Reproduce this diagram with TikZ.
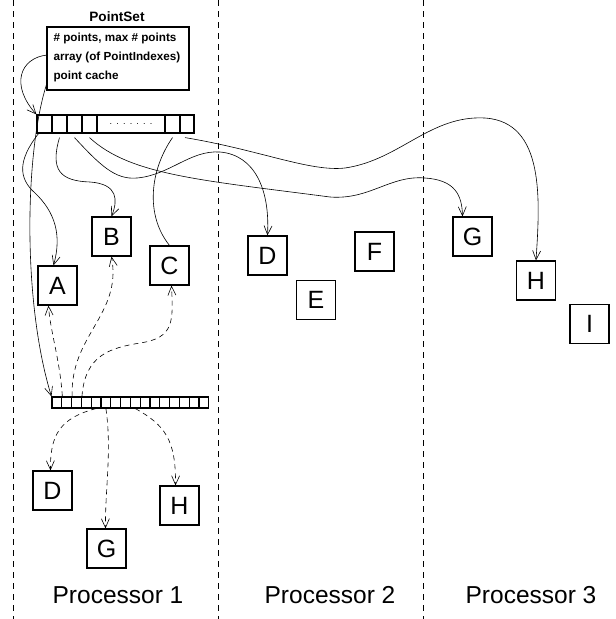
\documentclass[tikz,border=0pt]{standalone}
\usepackage{fontspec}
\setmainfont{Liberation Sans}
\usetikzlibrary{arrows.meta}
\tikzset{
  obj/.style={draw,line width=1.2pt,minimum size=39pt,inner sep=0pt,font=\fontsize{25}{30}\selectfont},
  cellbox/.style={draw,line width=1.2pt,minimum height=18pt,inner sep=0pt},
  tinycell/.style={draw,line width=1.1pt,minimum width=9.8pt,minimum height=11pt,inner sep=0pt},
  ptr/.style={line width=0.6pt,-{Straight Barb[length=9pt,width=8pt]}},
  ghost/.style={ptr,dash pattern=on 5pt off 4pt},
  divider/.style={line width=0.6pt,dash pattern=on 6pt off 5pt},
  proc/.style={font=\fontsize{24.5}{29}\selectfont}
}
\begin{document}
\begin{tikzpicture}[x=1pt,y=-1pt]
    \useasboundingbox (0,0) rectangle (616,619);
    % processor boundaries
    \draw[divider] (13,0)--(13,619);
    \draw[divider] (218,0)--(218,619);
    \draw[divider] (423,0)--(423,619);
    \node[proc] (p1) at (118,595) {Processor 1};
    \node[proc] (p2) at (330,595) {Processor 2};
    \node[proc] (p3) at (531,595) {Processor 3};

    % the PointSet record
    \node[font=\fontsize{13.6}{16}\selectfont\bfseries] (title) at (117,17) {PointSet};
    \draw[line width=1.2pt] (47,27) rectangle (189,90);
    \node[anchor=west,font=\fontsize{11.7}{14}\selectfont\bfseries] (f1) at (50,38) {\# points, max \# points};
    \node[anchor=west,font=\fontsize{11.7}{14}\selectfont\bfseries] (f2) at (50,57) {array (of PointIndexes)};
    \node[anchor=west,font=\fontsize{11.7}{14}\selectfont\bfseries] (f3) at (50,76) {point cache};
    \coordinate (arr) at (47,55);
    \coordinate (cache) at (47,83);

    % array of point indexes
    \node[cellbox,minimum width=15pt] (c1) at (44.5,124) {};
    \node[cellbox,minimum width=15pt] (c2) at (59.5,124) {};
    \node[cellbox,minimum width=15pt] (c3) at (74.5,124) {};
    \node[cellbox,minimum width=15pt] (c4) at (89.5,124) {};
    \node[cellbox,minimum width=68pt] (cdots) at (131,124) {\fontsize{9}{11}\selectfont.\hspace{4.2pt}.\hspace{4.2pt}.\hspace{4.2pt}.\hspace{4.2pt}.\hspace{4.2pt}.\hspace{4.2pt}.};
    \node[cellbox,minimum width=15pt] (c6) at (172.5,124) {};
    \node[cellbox,minimum width=14pt] (c7) at (187,124) {};

    % point cache
    \foreach \i in {1,...,16}
        \node[tinycell] (b\i) at ({47.1+9.8*\i},402.5) {};

    % points
    \node[obj] (A) at (57.5,285.5) {A};
    \node[obj] (B) at (111.5,236.5) {B};
    \node[obj] (C) at (169.5,265.5) {C};
    \node[obj] (D) at (267.5,255.5) {D};
    \node[obj] (E) at (316,300) {E};
    \node[obj] (F) at (374.5,251.5) {F};
    \node[obj] (G) at (472.5,236.5) {G};
    \node[obj] (H) at (536,280.5) {H};
    \node[obj] (I) at (589.5,324) {I};
    \node[obj] (Dg) at (52.5,490.5) {D};
    \node[obj] (Gg) at (106.5,548.5) {G};
    \node[obj] (Hg) at (179.5,505.5) {H};

    % pointers
    \draw[ptr] (arr) .. controls (20,58) and (10,85) .. (c1.north west);
    \draw[ptr] (cache) .. controls (25,150) and (22,300) .. (b1.north west);
    \draw[ptr] ([xshift=-6pt]c1.south) .. controls (18,160) and (18,178) .. (35,193)
        .. controls (55,212) and (62,235) .. ([xshift=-4pt]A.north);
    \draw[ptr] ([yshift=-4pt]c2.south) .. controls (50,170) and (60,181) .. (90,182)
        .. controls (118,184) and (118,200) .. (B.north);
    \draw[ptr] ([yshift=-4pt]c3.south) .. controls (100,165) and (115,180) .. (137,178)
        .. controls (170,175) and (190,150) .. (220,152)
        .. controls (255,155) and (270,190) .. (D.north);
    \draw[ptr] ([yshift=-4pt]c4.south) .. controls (130,175) and (200,180) .. (330,197)
        .. controls (370,200) and (390,175) .. (425,178)
        .. controls (455,180) and (462,195) .. ([xshift=-10pt]G.north);
    \draw[line width=0.6pt] ([yshift=-4pt]c6.south) .. controls (150,170) and (145,215) .. (C.north);
    \draw[ptr] ([yshift=-4pt,xshift=-2pt]c7.south) .. controls (260,150) and (310,172) .. (345,168)
        .. controls (400,160) and (430,115) .. (485,118)
        .. controls (545,122) and (540,200) .. (H.north);

    % cached copies
    \draw[ghost] (b1.north east) .. controls (60,360) and (50,330) .. ([xshift=-9pt]A.south);
    \draw[ghost] (b2.north east) .. controls (70,335) and (122,315) .. (B.south);
    \draw[ghost] (b3.north east) .. controls (85,355) and (110,348) .. (140,343)
        .. controls (175,338) and (173,320) .. ([xshift=2pt]C.south);
    \draw[ghost] (b5.south) .. controls (60,418) and (50,435) .. ([xshift=-2pt]Dg.north);
    \draw[ghost] (b6.south) .. controls (112,450) and (105,490) .. ([xshift=-1pt]Gg.north);
    \draw[ghost] (b9.south) .. controls (165,425) and (176,440) .. ([xshift=-4pt]Hg.north);
\end{tikzpicture}
\end{document}
